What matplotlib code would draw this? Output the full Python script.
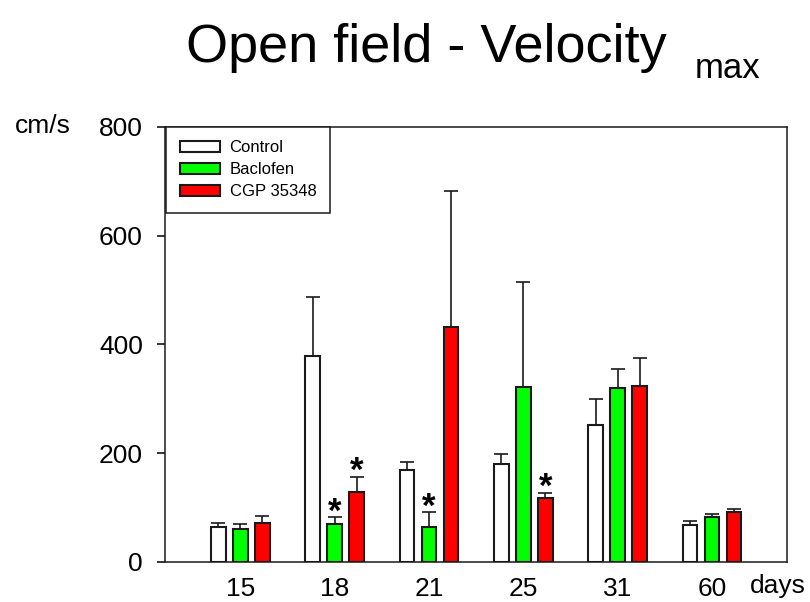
import numpy as np
import matplotlib
matplotlib.use("Agg")
import matplotlib.pyplot as plt

plt.rcParams['font.family'] = ['Liberation Sans', 'DejaVu Sans']

days = ['15', '18', '21', '25', '31', '60']
groups = ['Control', 'Baclofen', 'CGP 35348']
colors = ['white', '#00ff00', '#ff0000']

# mean values (cm/s)
control = [65, 378, 170, 181, 251, 68]
baclofen = [61, 69, 64, 321, 320, 82]
cgp = [71, 129, 433, 118, 324, 92]

# upper error (SEM)
control_err = [7, 110, 14, 18, 49, 8]
baclofen_err = [8, 13, 27, 193, 34, 7]
cgp_err = [13, 27, 249, 9, 52, 6]

# significant (day index, group index)
stars = [(1, 1), (1, 2), (2, 1), (3, 2)]

means = [control, baclofen, cgp]
errs = [control_err, baclofen_err, cgp_err]

fig = plt.figure(figsize=(8.1, 6.02), dpi=100)
ax = fig.add_axes([0.2037, 0.0665, 0.7679, 0.7226])

x = np.arange(len(days))
pitch = 0.233
width = 0.155
for i in range(3):
    xi = x + (i - 1) * pitch
    e = np.array(errs[i])
    ax.bar(xi, means[i], width, color=colors[i], edgecolor='#1a1a1a',
           linewidth=1.5, label=groups[i], zorder=2)
    ax.errorbar(xi, means[i], yerr=[np.zeros_like(e), e], fmt='none',
                ecolor='#1a1a1a', elinewidth=1.2, capsize=4.7, capthick=1.2,
                zorder=1)

for d, g in stars:
    top = means[g][d] + errs[g][d]
    ax.annotate('*', xy=(x[d] + (g - 1) * pitch, top), xytext=(0, -3),
                textcoords='offset points', ha='center', va='baseline',
                fontsize=25, fontweight='bold')

ax.set_xlim(-0.798, 5.795)
ax.set_ylim(0, 800)
ax.set_yticks([0, 200, 400, 600, 800])
ax.set_xticks(x)
ax.set_xticklabels(days)
ax.tick_params(axis='x', length=0, pad=11, labelsize=19)
ax.tick_params(axis='y', direction='out', length=6, width=1.1, pad=10, labelsize=19)
for s in ax.spines.values():
    s.set_linewidth(1.1)
    s.set_color('#1a1a1a')

leg = ax.legend(loc='upper left', bbox_to_anchor=(0.002, 1.0), borderaxespad=0,
                fontsize=12, handlelength=2.4, handleheight=0.66,
                handletextpad=0.6, labelspacing=0.42, borderpad=0.8,
                fancybox=False, framealpha=1)
leg.get_frame().set_edgecolor('#1a1a1a')
leg.get_frame().set_linewidth(1.1)

fig.text(186 / 810, 1 - 62 / 602, 'Open field - Velocity', fontsize=39,
         ha='left', va='baseline')
fig.text(695 / 810, 1 - 78 / 602, 'max', fontsize=25, ha='left', va='baseline')
fig.text(15 / 810, 1 - 133 / 602, 'cm/s', fontsize=19, ha='left', va='baseline')
fig.text(750 / 810, 1 - 593 / 602, 'days', fontsize=19, ha='left', va='baseline')

fig.savefig('out.png', dpi=100, facecolor='white')
